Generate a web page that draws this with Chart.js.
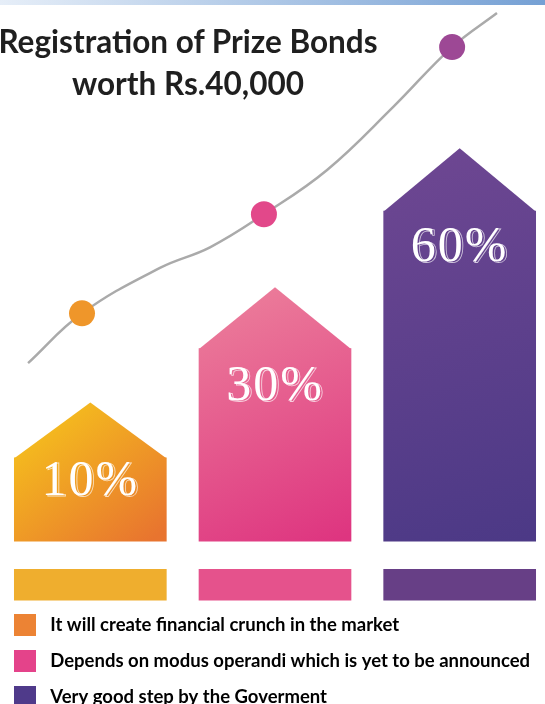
<!DOCTYPE html>
<html>
<head>
<meta charset="utf-8">
<script src="https://cdn.jsdelivr.net/npm/chart.js@4.4.1/dist/chart.umd.min.js"></script>
<style>
  html, body { margin: 0; padding: 0; background: #fff; width: 545px; height: 704px; overflow: hidden; }
  #band { position: absolute; left: 0; top: 0; width: 545px; height: 5px; background: linear-gradient(to right, #e6eef8, #75a0d4); }
  #wrap { position: absolute; left: 5px; top: 0; width: 540px; height: 723px; }
  #title { position: absolute; left: -8px; top: 20px; width: 392px; text-align: center; font: 700 31.5px Lato, sans-serif; line-height: 42px; color: #1f1f1f; }
</style>
</head>
<body>
<div id="band"></div>
<div id="wrap"><canvas id="c" width="540" height="723"></canvas></div>
<div id="title">Registration of Prize Bonds<br>worth Rs.40,000</div>
<script>
const categories = [
  'It will create financial crunch in the market',
  'Depends on modus operandi which is yet to be announced',
  'Very good step by the Goverment'
];
const percents = [10, 30, 60];
// drawn heights, in % of the plot height (not to scale with the percents)
const bodyTops  = [15.4, 35.6, 61.0];
const roofPeaks = [25.6, 46.9, 72.6];
const stripRange = [[-10.9, -5.2], [-10.9, -5.2], [-10.9, -5.2]];
// grey trend curve, x in category units (0,1,2 = bar centres)
const trendX = [-0.337, -0.045, 0.377, 0.648, 0.940, 1.282, 1.639, 1.959, 2.202];
const trendY = [32.9, 42.1, 50.5, 54.3, 60.4, 68.6, 80.2, 91.3, 97.6];
const dotAt = [1, 4, 7];

const grad = [['#f6c41c', '#e8742f'], ['#ec7f9b', '#de3580'], ['#6e4792', '#4c3986']];
const stripColors = ['#efae2e', '#e5528c', '#673f86'];
const legendColors = ['#ec8334', '#e4438a', '#4f3a8a'];
const dotColors = ['#ef962a', '#e2488a', '#9d4895'];

const $ = id => document.getElementById(id);

function barFill(chart, i) {
  const { ctx, scales: { x, y } } = chart;
  const cx = x.getPixelForValue(i);
  const g = ctx.createLinearGradient(cx - 50, y.getPixelForValue(roofPeaks[i]), cx + 60, y.getPixelForValue(0));
  g.addColorStop(0, grad[i][0]);
  g.addColorStop(1, grad[i][1]);
  return g;
}

const houses = {
  id: 'houses',
  afterDatasetDraw(chart, args) {
    if (args.index !== 0) return;
    const { ctx, scales: { y } } = chart;
    args.meta.data.forEach((el, i) => {
      const { x, y: top, width } = el.getProps(['x', 'y', 'width'], true);
      ctx.save();
      ctx.beginPath();
      ctx.moveTo(x - width / 2, top + 0.5);
      ctx.lineTo(x, y.getPixelForValue(roofPeaks[i]));
      ctx.lineTo(x + width / 2, top + 0.5);
      ctx.closePath();
      ctx.fillStyle = barFill(chart, i);
      ctx.fill();
      ctx.restore();
    });
  },
  afterDatasetsDraw(chart) {
    const { ctx, scales: { y } } = chart;
    chart.getDatasetMeta(0).data.forEach((el, i) => {
      const peak = y.getPixelForValue(roofPeaks[i]);
      const bot = y.getPixelForValue(0);
      const cy = peak + Math.min(100, 0.57 * (bot - peak));
      const txt = percents[i] + '%';
      ctx.save();
      ctx.font = '50px "Liberation Serif", serif';
      ctx.letterSpacing = '2px';
      ctx.textAlign = 'center';
      ctx.textBaseline = 'middle';
      ctx.strokeStyle = 'rgba(255,255,255,0.7)';
      ctx.lineWidth = 0.8;
      ctx.strokeText(txt, el.x + 2, cy + 1);
      ctx.fillStyle = '#fff';
      ctx.fillText(txt, el.x, cy);
      ctx.restore();
    });
  }
};

Chart.defaults.font.family = 'Lato';

new Chart($('c'), {
  type: 'bar',
  data: {
    labels: categories,
    datasets: [
      {
        data: bodyTops.map((v, i) => ({ x: i, y: v })),
        backgroundColor: c => c.chart.chartArea ? barFill(c.chart, c.dataIndex) : grad[c.dataIndex][0],
        grouped: false,
        order: 2
      },
      {
        data: stripRange.map((v, i) => ({ x: i, y: v })),
        backgroundColor: stripColors,
        grouped: false,
        order: 3
      },
      {
        type: 'line',
        data: trendX.map((v, i) => ({ x: v, y: trendY[i] })),
        borderColor: '#aaaaaa',
        borderWidth: 2.5,
        tension: 0.4,
        pointRadius: c => dotAt.includes(c.dataIndex) ? 13 : 0,
        pointBackgroundColor: c => dotColors[Math.max(0, dotAt.indexOf(c.dataIndex))],
        pointBorderWidth: 0,
        order: 1
      }
    ]
  },
  options: {
    responsive: false,
    animation: false,
    barThickness: 152,
    layout: { padding: 0 },
    scales: {
      x: { type: 'linear', display: false, offset: false, min: -0.462, max: 2.462 },
      y: { display: false, min: -11.8, max: 100 }
    },
    plugins: {
      tooltip: { enabled: false },
      legend: {
        position: 'bottom',
        align: 'start',
        labels: {
          boxWidth: 32,
          boxHeight: 32,
          padding: 4,
          color: '#262626',
          font: { size: 18.5, weight: 'bold' },
          // white border trims the 32px box down to a 22px swatch
          generateLabels: () => categories.map((t, i) => ({
            text: t, fillStyle: legendColors[i], strokeStyle: '#ffffff', lineWidth: 10, hidden: false, index: i, datasetIndex: 0
          }))
        }
      }
    }
  },
  plugins: [houses]
});
</script>
</body>
</html>
